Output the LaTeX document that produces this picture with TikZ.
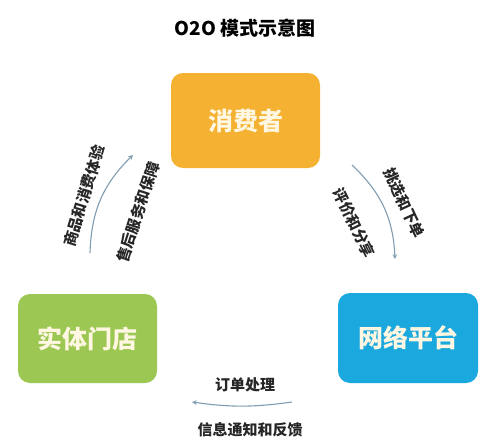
\documentclass[tikz,border=0pt]{standalone}
\usepackage{fontspec}
\setmainfont{Noto Sans CJK SC}
\definecolor{orangebox}{HTML}{F5B131}
\definecolor{greenbox}{HTML}{9BC752}
\definecolor{bluebox}{HTML}{1AA8DE}
\definecolor{boxtext}{HTML}{FFF7E2}
\definecolor{flowline}{HTML}{7F9CB0}
\begin{document}
\begin{tikzpicture}[x=1pt,y=-1pt]
		  \tikzstyle{role}=[rounded corners=12pt,minimum width=140pt,minimum height=90pt,text=boxtext,font=\bfseries\fontsize{25}{25}\selectfont];
		  \tikzstyle{lbl}=[text=black!85,font=\bfseries\fontsize{15}{15}\selectfont];
		  \tikzstyle{flow}=[->,draw=flowline,line width=1.1pt,>=stealth];
			\useasboundingbox (0,0) rectangle (500,447);

			\path (245,28) node[font=\bfseries\fontsize{19}{19}\selectfont] (title) {O2O 模式示意图};

			\path (245.5,120.5) node[role,fill=orangebox,minimum width=149pt,minimum height=95pt] (consumer) {消费者};
			\path (87.5,338.5)  node[role,fill=greenbox,minimum width=139pt,minimum height=89pt] (store) {实体门店};
			\path (408,338)     node[role,fill=bluebox] (online) {网络平台};

			\coordinate (ls) at (90,253);
			\coordinate (le) at (133,155);
			\coordinate (rs) at (352,165);
			\coordinate (re) at (395,259);
			\coordinate (bs) at (292,402);
			\coordinate (be) at (192,402);

			\path[flow] (ls) to[bend left=22] (le);
			\path[flow] (rs) to[bend left=22] (re);
			\path[flow] (bs) to[bend left=8] (be);

			\path (84,196)  node[lbl,rotate=73] (goods) {商品和消费体验};
			\path (138,212) node[lbl,rotate=72] (service) {售后服务和保障};
			\path (404,203) node[lbl,rotate=-65] (choose) {挑选和下单};
			\path (354,223) node[lbl,rotate=-64] (review) {评价和分享};
			\path (245,385) node[lbl] (order) {订单处理};
			\path (250,430) node[lbl] (notice) {信息通知和反馈};
		\end{tikzpicture}
\end{document}
